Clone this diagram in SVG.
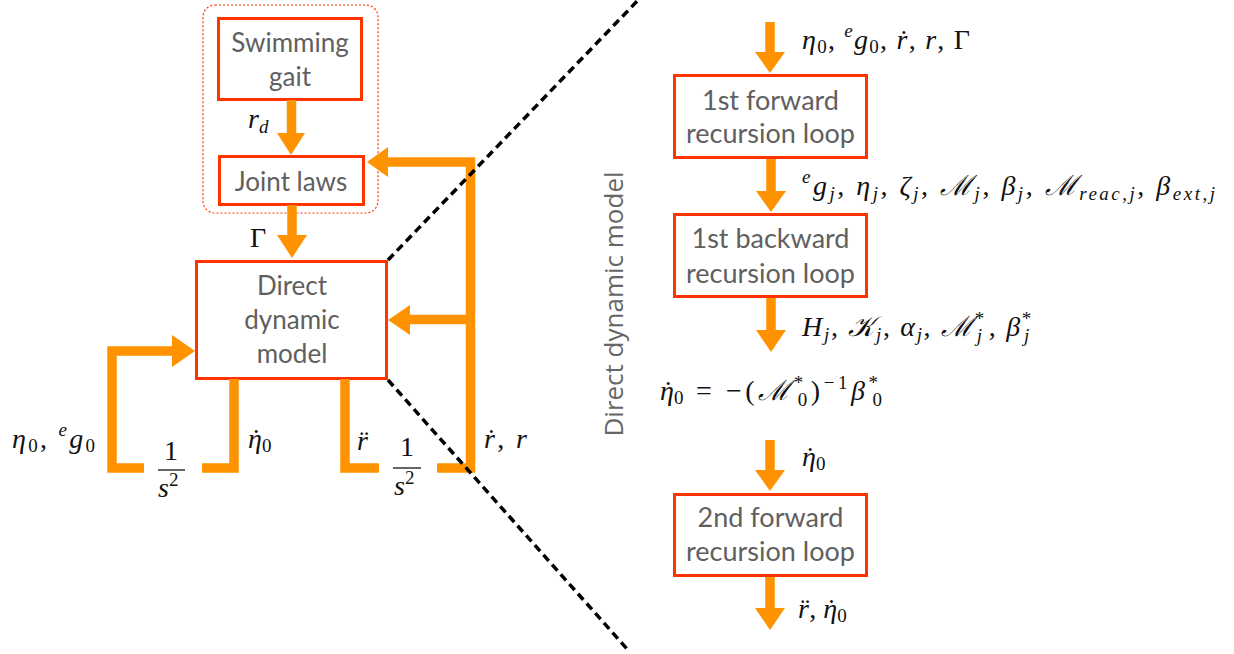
<svg xmlns="http://www.w3.org/2000/svg" width="1234" height="654" viewBox="0 0 1234 654">
<style>
.box{fill:#fff;stroke:#ff3300;stroke-width:3}
.lbl{font-family:Lato,"Open Sans",sans-serif;fill:#606060;text-anchor:middle}
.l26{font-size:26px}
.l27{font-size:27px}
.wire{fill:none;stroke:#ff9200;stroke-width:9.5;stroke-linejoin:miter;stroke-linecap:butt}
.head{fill:#ff9200}
.dash{fill:none;stroke:#000;stroke-width:3.5;stroke-dasharray:8 5}
.m{font-family:"Liberation Serif","DejaVu Serif",serif;font-style:italic;font-size:28px;fill:#111}
.u{font-style:normal}
.s{font-size:19px;font-style:normal}
.si{font-size:19px}
</style>

<g id="group-frame">
<rect x="203" y="5" width="175" height="208" rx="12" fill="none" stroke="#ff3300" stroke-width="1.2" stroke-dasharray="2 2"/>
</g>

<g id="node-swimming-gait">
<rect class="box" x="218.5" y="18.5" width="143" height="81"/>
<text class="lbl l26" x="290" y="52">Swimming</text>
<text class="lbl l26" x="290" y="86">gait</text>
</g>

<g id="node-joint-laws">
<rect class="box" x="219.5" y="156.5" width="144" height="48"/>
<text class="lbl l26" x="291" y="191">Joint laws</text>
</g>

<g id="node-direct-dynamic-model">
<rect class="box" x="196.5" y="261.5" width="190" height="117"/>
<text class="lbl l26" x="292" y="295">Direct</text>
<text class="lbl l26" x="292" y="329">dynamic</text>
<text class="lbl l26" x="292" y="363">model</text>
</g>

<g id="node-fwd1">
<rect class="box" x="674.5" y="75.5" width="192" height="82"/>
<text class="lbl l27" x="770.5" y="110">1st forward</text>
<text class="lbl l27" x="770.5" y="143">recursion loop</text>
</g>

<g id="node-bwd1">
<rect class="box" x="674.5" y="214.5" width="192" height="82"/>
<text class="lbl l27" x="770.5" y="248">1st backward</text>
<text class="lbl l27" x="770.5" y="283">recursion loop</text>
</g>

<g id="node-fwd2">
<rect class="box" x="674.5" y="494.5" width="192" height="81"/>
<text class="lbl l27" x="770.5" y="527">2nd forward</text>
<text class="lbl l27" x="770.5" y="561">recursion loop</text>
</g>

<g id="connectors">
<path class="wire" d="M291.5,100 V134"/>
<polygon class="head" points="277,133 305,133 291,155"/>
<path class="wire" d="M292,205 V236"/>
<polygon class="head" points="277,235 307,235 292,258"/>
<path class="wire" d="M144,468 H112 V351 H174"/>
<polygon class="head" points="172,335 195,351 172,367"/>
<path class="wire" d="M202,468 H234 V379"/>
<path class="wire" d="M345,379 V468 H379"/>
<path class="wire" d="M437,468 H470.5 V162 H386"/>
<polygon class="head" points="388,147 367,162 388,177"/>
<path class="wire" d="M470,319.5 H408"/>
<polygon class="head" points="410,305 388,320 410,335"/>
<path class="wire" d="M770,22 V53"/>
<polygon class="head" points="755,52 785,52 770,73"/>
<path class="wire" d="M771,159 V192"/>
<polygon class="head" points="756,191 786,191 771,212"/>
<path class="wire" d="M771,298 V331"/>
<polygon class="head" points="756,330 786,330 771,352"/>
<path class="wire" d="M770,440 V471"/>
<polygon class="head" points="755,470 785,470 770,491"/>
<path class="wire" d="M770,577 V609"/>
<polygon class="head" points="755,608 785,608 770,630"/>
</g>

<g id="zoom-lines">
<path class="dash" d="M388,260 L644,-6"/>
<path class="dash" d="M388,380 L628,650"/>
</g>

<g id="labels">
<text class="m" x="248" y="128">r<tspan class="si" dy="5">d</tspan></text>
<text class="m u" x="250" y="247">Γ</text>
<text class="m" x="12" y="448" textLength="83" lengthAdjust="spacing">η<tspan class="s" dy="4">0</tspan><tspan class="u" dy="-4">, </tspan><tspan class="si" dy="-12">e</tspan><tspan dy="12">g</tspan><tspan class="s" dy="4">0</tspan></text>
<text class="m" x="248" y="448">η<tspan class="u" dx="-10.5">˙</tspan><tspan class="s" dx="1.2" dy="4">0</tspan></text>
<text class="m" x="357" y="450">r<tspan class="u" dx="-8.5">¨</tspan></text>
<text class="m" x="484" y="448" textLength="43" lengthAdjust="spacing">ṙ<tspan class="u">, </tspan>r</text>
<text class="m u" x="171" y="460" text-anchor="middle">1</text>
<line x1="158" y1="470" x2="185" y2="470" stroke="#111" stroke-width="1.3"/>
<text class="m" x="158" y="497">s<tspan class="s" dy="-11">2</tspan></text>
<text class="m u" x="407" y="456" text-anchor="middle">1</text>
<line x1="393" y1="468" x2="421" y2="468" stroke="#111" stroke-width="1.3"/>
<text class="m" x="394" y="495">s<tspan class="s" dy="-11">2</tspan></text>

<text class="m" x="802" y="49" textLength="168" lengthAdjust="spacing">η<tspan class="s" dy="4">0</tspan><tspan class="u" dy="-4">, </tspan><tspan class="si" dy="-12">e</tspan><tspan dy="12">g</tspan><tspan class="s" dy="4">0</tspan><tspan class="u" dy="-4">, </tspan>ṙ<tspan class="u">, </tspan>r<tspan class="u">, Γ</tspan></text>
<text class="m" x="802" y="195" textLength="413" lengthAdjust="spacing"><tspan class="si" dy="-12">e</tspan><tspan dy="12">g</tspan><tspan class="si" dy="5">j</tspan><tspan class="u" dy="-5">, </tspan>η<tspan class="si" dy="5">j</tspan><tspan class="u" dy="-5">, </tspan>ζ<tspan class="si" dy="5">j</tspan><tspan class="u" dy="-5">, </tspan>ℳ<tspan class="si" dy="5">j</tspan><tspan class="u" dy="-5">, </tspan>β<tspan class="si" dy="5">j</tspan><tspan class="u" dy="-5">, </tspan>ℳ<tspan class="si" dy="5">reac,j</tspan><tspan class="u" dy="-5">, </tspan>β<tspan class="si" dy="5">ext,j</tspan></text>
<text class="m" x="802" y="336" textLength="231" lengthAdjust="spacing">H<tspan class="si" dy="5">j</tspan><tspan class="u" dy="-5">, </tspan>𝒦<tspan class="si" dy="5">j</tspan><tspan class="u" dy="-5">, </tspan>α<tspan class="si" dy="5">j</tspan><tspan class="u" dy="-5">, </tspan>ℳ<tspan class="s" dy="-11">*</tspan><tspan class="si" dx="-9" dy="17">j</tspan><tspan class="u" dx="5" dy="-6">, </tspan>β<tspan class="s" dy="-11">*</tspan><tspan class="si" dx="-9" dy="17">j</tspan></text>
<text class="m" x="660" y="400">η<tspan class="u" dx="-10.5">˙</tspan><tspan class="s" dx="1.2" dy="4">0</tspan></text>
<text class="m" x="696" y="400" textLength="186" lengthAdjust="spacing"><tspan class="u">= −(</tspan>ℳ<tspan class="s" dy="-11">*</tspan><tspan class="s" dx="-9" dy="17">0</tspan><tspan class="u" dy="-6">)</tspan><tspan class="s u" dy="-11">−1</tspan><tspan dy="11">β</tspan><tspan class="s" dy="-11">*</tspan><tspan class="s" dx="-9" dy="17">0</tspan></text>
<text class="m" x="802" y="466">η<tspan class="u" dx="-10.5">˙</tspan><tspan class="s" dx="1.2" dy="4">0</tspan></text>
<text class="m" x="798" y="618">r<tspan class="u" dx="-8.5">¨</tspan><tspan class="u" dx="-0.5">, </tspan>η<tspan class="u" dx="-10.5">˙</tspan><tspan class="s" dx="1.2" dy="4">0</tspan></text>
</g>

<g id="side-title">
<text transform="translate(623,304) rotate(-90)" text-anchor="middle" font-family="'Open Sans',Lato,sans-serif" font-size="26" fill="#666">Direct dynamic model</text>
</g>
</svg>
